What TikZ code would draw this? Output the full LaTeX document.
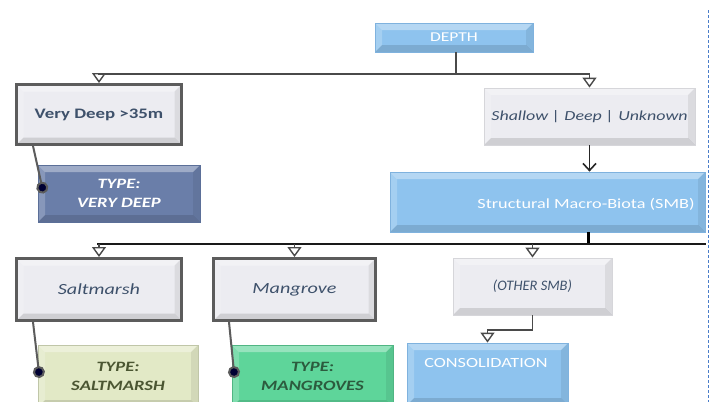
\documentclass[tikz,border=0pt]{standalone}
\usepackage{fontspec}
\setmainfont{Carlito}
\newfontfamily\wide[FakeStretch=1.3]{Carlito}
\usetikzlibrary{arrows.meta}
\definecolor{bluefill}{HTML}{8EC3EE}
\definecolor{blueedge}{HTML}{7FB2DE}
\definecolor{grayfill}{HTML}{ECECF1}
\definecolor{thickgray}{HTML}{5C5C5C}
\definecolor{thingray}{HTML}{D6D6DA}
\definecolor{txtblue}{HTML}{3E516B}
\definecolor{slate}{HTML}{6A7EA9}
\definecolor{slateedge}{HTML}{5B6F98}
\definecolor{paleolive}{HTML}{E2E9C6}
\definecolor{olivetxt}{HTML}{4B5632}
\definecolor{mintgreen}{HTML}{5ED59A}
\definecolor{greentxt}{HTML}{2C5B3E}
\definecolor{dashblue}{HTML}{4A7DC9}
\definecolor{linegray}{HTML}{4A4A4A}
\tikzset{
  bevel/.style={path picture={
    \fill[white,opacity=.35] (path picture bounding box.north west) -- (path picture bounding box.north east) -- ([shift={(-#1,#1)}]path picture bounding box.north east) -- ([shift={(#1,#1)}]path picture bounding box.north west) -- cycle;
    \fill[white,opacity=.2] (path picture bounding box.north west) -- ([shift={(#1,#1)}]path picture bounding box.north west) -- ([shift={(#1,-#1)}]path picture bounding box.south west) -- (path picture bounding box.south west) -- cycle;
    \fill[black,opacity=.12] (path picture bounding box.south west) -- (path picture bounding box.south east) -- ([shift={(-#1,-#1)}]path picture bounding box.south east) -- ([shift={(#1,-#1)}]path picture bounding box.south west) -- cycle;
    \fill[black,opacity=.07] (path picture bounding box.north east) -- (path picture bounding box.south east) -- ([shift={(-#1,-#1)}]path picture bounding box.south east) -- ([shift={(-#1,#1)}]path picture bounding box.north east) -- cycle;
  }},
  bluebox/.style={draw=blueedge, line width=.8pt, fill=bluefill, bevel=7, text=white, inner sep=0pt, font=\wide\fontsize{13.5}{15}\selectfont},
  thickbox/.style={draw=thickgray, line width=3pt, fill=grayfill, bevel=7, text=txtblue, inner sep=0pt, font=\wide\fontsize{15.5}{17}\selectfont\itshape},
  thinbox/.style={draw=thingray, line width=.8pt, fill=grayfill, bevel=7, text=txtblue, inner sep=0pt, font=\wide\fontsize{13.8}{15}\selectfont\itshape},
  typebox/.style={line width=.8pt, bevel=7, inner sep=0pt, align=center, font=\wide\fontsize{14.3}{19}\selectfont\bfseries\itshape},
  conn/.style={draw=linegray, line width=1.3pt},
  openarrow/.style={-{Triangle[open,length=10pt,width=14pt,line width=1.4pt]}},
  leader/.style={draw=thickgray, line width=2pt, -{Circle[length=12pt,fill=black!80!blue]}},
}
\begin{document}
\begin{tikzpicture}[x=1pt,y=-1pt]
\useasboundingbox (0,0) rectangle (713,402);
\clip (0,0) rectangle (713,402);
\fill[white] (0,0) rectangle (713,402);
% nodes
\node[bluebox, minimum width=158pt, minimum height=29pt] (depth) at (454,37.5) {DEPTH};
\node[thickbox, minimum width=165pt, minimum height=60pt, font=\wide\fontsize{14.5}{16}\selectfont\bfseries] (vdeep) at (99,114.5) {Very Deep >35m};
\node[typebox, draw=slateedge, fill=slate, text=white, minimum width=162pt, minimum height=57pt] (tvdeep) at (119,193.5) {TYPE:\\VERY DEEP};
\node[thinbox, minimum width=211pt, minimum height=57pt] (shallow) at (589.5,116.5) {Shallow | Deep | Unknown};
\node[bluebox, minimum width=315pt, minimum height=60pt] (smb) at (547.5,202) {};
\node[text=white, font=\wide\fontsize{14}{16}\selectfont, inner sep=0pt] (smbtext) at (586,204) {Structural Macro-Biota (SMB)};
\node[thickbox, minimum width=165pt, minimum height=62pt] (salt) at (99,289.5) {Saltmarsh};
\node[thickbox, minimum width=162pt, minimum height=62pt] (mang) at (294.5,289.5) {Mangrove};
\node[thinbox, minimum width=159pt, minimum height=57pt, font=\fontsize{14.5}{16}\selectfont\itshape] (other) at (532.5,286.5) {(OTHER SMB)};
\node[typebox, draw=paleolive!85!black, fill=paleolive, text=olivetxt, minimum width=160pt, minimum height=62pt] (tsalt) at (118,376) {TYPE:\\SALTMARSH};
\node[typebox, draw=mintgreen!85!black, fill=mintgreen, text=greentxt, minimum width=161pt, minimum height=62pt] (tmang) at (312.5,376) {TYPE:\\MANGROVES};
\node[bluebox, minimum width=161pt, minimum height=62pt] (consol) at (487.5,374) {};
\node[text=white, font=\wide\fontsize{14}{16}\selectfont, inner sep=0pt] (consoltext) at (486,363) {CONSOLIDATION};
% coordinates
\coordinate (dj) at (456,74);
\coordinate (sj) at (588,244);
\coordinate (sl) at (97,244);
\coordinate (sr) at (706,244);
\coordinate (oj) at (532.5,330);
% connectors
\draw[conn] (depth.south -| dj) -- (dj);
\draw[conn,openarrow] (dj) -| (vdeep.north);
\draw[conn,openarrow] (dj) -| (shallow.north);
\draw[draw=black!85, line width=1.6pt, -{Straight Barb[length=7pt,width=13pt,line width=1.6pt]}] (shallow.south) -- (smb.north -| shallow.south);
\draw[draw=black, line width=3pt] (smb.south -| sj) -- (sj);
\draw[draw=black!90, line width=1.5pt] (sl) -- (sr);
\draw[conn,openarrow] (sl -| salt.north) -- (salt.north);
\draw[conn,openarrow] (sl -| mang.north) -- (mang.north);
\draw[conn,openarrow] (sl -| other.north) -- (other.north);
\draw[conn] (other.south) -- (oj);
\draw[conn,openarrow] (oj) -| (consol.north);
\draw[leader] ([xshift=18pt]vdeep.south west) -- ([xshift=6pt]tvdeep.west);
\draw[leader] ([xshift=18pt]salt.south west) -- ([shift={(2pt,-2pt)}]tsalt.west);
\draw[leader] ([xshift=17pt]mang.south west) -- ([shift={(3pt,-2pt)}]tmang.west);
% dashed guide
\coordinate (dtop) at (708,10);
\coordinate (dbot) at (708,402);
\draw[dashblue, line width=1pt, dash pattern=on 3pt off 2pt] (dtop) -- (dbot);
\end{tikzpicture}
\end{document}
